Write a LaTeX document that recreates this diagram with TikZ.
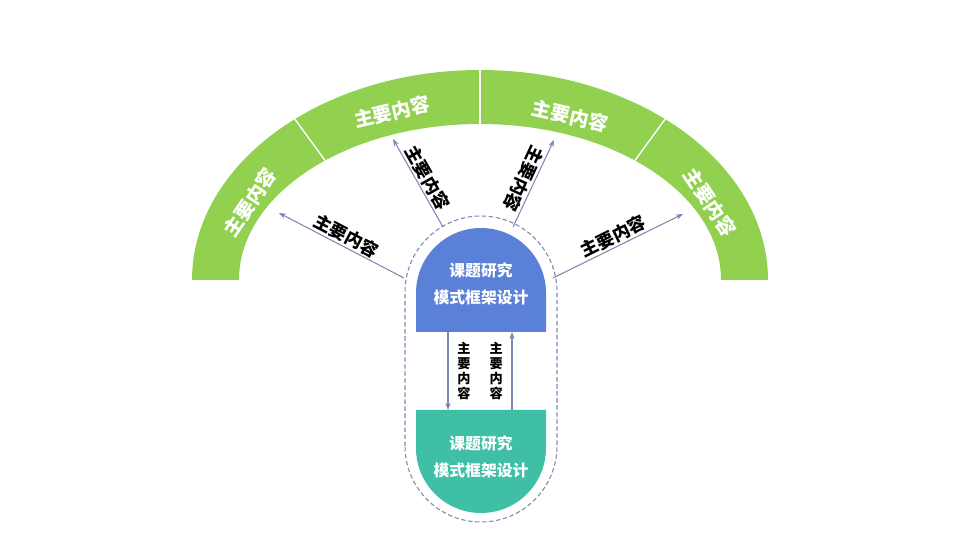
\documentclass[tikz,border=0pt]{standalone}
\usepackage{fontspec}
\setmainfont{Noto Sans CJK SC}
\usetikzlibrary{arrows.meta, positioning}
\definecolor{arcgreen}{HTML}{92D050}
\definecolor{capblue}{HTML}{5B80D8}
\definecolor{capteal}{HTML}{3FBFA5}
\definecolor{linkgray}{HTML}{7D88B0}
\tikzset{
  seglabel/.style={
    text=white,
    font=\fontsize{11}{13}\selectfont\bfseries
  },
  caplabel/.style={
    text=white,
    align=center,
    font=\fontsize{9}{15}\selectfont\bfseries
  },
  linklabel/.style={
    text=black,
    inner sep=1pt,
    font=\fontsize{10}{12}\selectfont\bfseries
  },
  stacklabel/.style={
    text=black,
    align=center,
    inner sep=0pt,
    font=\fontsize{7.5}{8.5}\selectfont\bfseries
  },
  arrow/.style={
    -{Stealth[length=4pt,width=3pt]},
    linkgray,
    line width=0.6pt
  }
}

\begin{document}
\begin{tikzpicture}[x=0.02cm, y=0.02cm]
  \useasboundingbox (0,0) rectangle (960,540);

  % Bande verte en arc
  \begin{scope}[shift={(480,260)}]
    \fill[arcgreen] (-288,0) arc[start angle=180, end angle=0, x radius=288, y radius=210]
      -- (241,0) arc[start angle=0, end angle=180, x radius=241, y radius=156] -- cycle;
    \foreach \t in {130,90,50}
      \draw[white, line width=0.8pt] (\t:288 and 210) -- (\t:241 and 156);

    \node[seglabel, rotate=56] (seg1) at (-230,78) {主要内容};
    \node[seglabel, rotate=13] (seg2) at (-88,168) {主要内容};
    \node[seglabel, rotate=-13] (seg3) at (90,164) {主要内容};
    \node[seglabel, rotate=-56] (seg4) at (230,78) {主要内容};

    \coordinate (tip1) at (-201,67);
    \coordinate (tip2) at (-87,141);
    \coordinate (tip3) at (74,140);
    \coordinate (tip4) at (203,66);
  \end{scope}

  % Capsule en pointillés
  \draw[dashed, linkgray, line width=0.6pt, dash pattern=on 2.5pt off 1.5pt]
    (405,94) -- (405,248) arc[start angle=180, end angle=0, radius=76]
    -- (557,94) arc[start angle=0, end angle=-180, radius=76] -- cycle;

  % Blocs bleu et vert
  \fill[capblue] (416,208) -- (416,247) arc[start angle=180, end angle=0, radius=65] -- (546,208) -- cycle;
  \fill[capteal] (416,130) -- (416,92) arc[start angle=180, end angle=360, radius=65] -- (546,130) -- cycle;
  \node[caplabel] (upper) at (481,256) {课题研究\\模式框架设计};
  \node[caplabel] (lower) at (481,83) {课题研究\\模式框架设计};

  % Départs des flèches sur la capsule
  \coordinate (base1) at (404,262);
  \coordinate (base2) at (443,313);
  \coordinate (base3) at (513,313);
  \coordinate (base4) at (553,262);

  % Flèches radiales
  \draw[arrow] (base1) -- node[linklabel, sloped, above] {主要内容} (tip1);
  \draw[arrow] (base2) -- node[linklabel, sloped, above] {主要内容} (tip2);
  \draw[arrow] (base3) -- node[linklabel, rotate=-115, below] {主要内容} (tip3);
  \draw[arrow] (base4) -- node[linklabel, sloped, above] {主要内容} (tip4);

  % Flèches verticales entre les blocs
  \coordinate (down1) at (448,208);
  \coordinate (down2) at (448,130);
  \coordinate (up1) at (512,130);
  \coordinate (up2) at (512,208);
  \draw[arrow] (down1) -- node[stacklabel, right=5pt] {主\\要\\内\\容} (down2);
  \draw[arrow] (up1) -- node[stacklabel, left=5pt] {主\\要\\内\\容} (up2);

\end{tikzpicture}
\end{document}
